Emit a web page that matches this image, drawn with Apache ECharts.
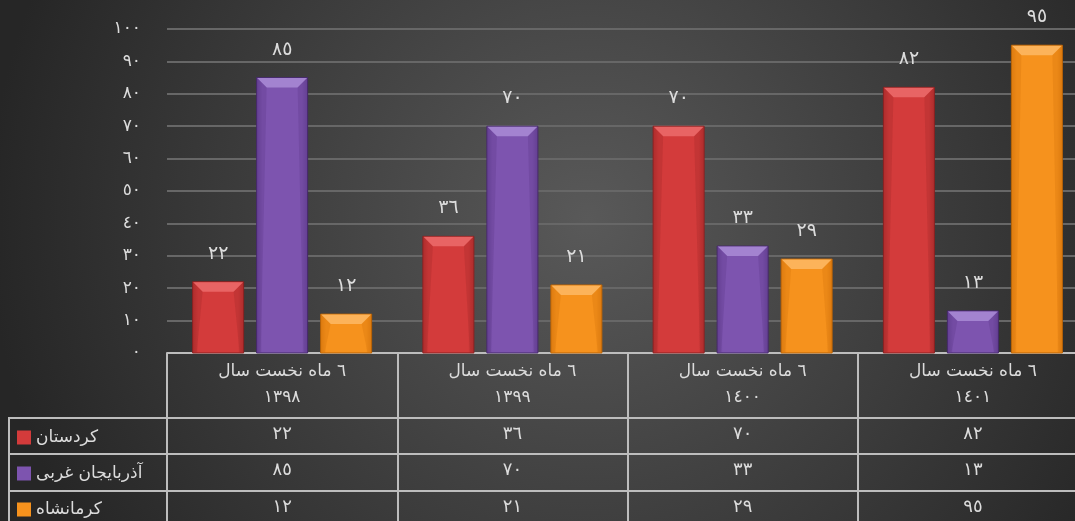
<!DOCTYPE html>
<html>
<head>
<meta charset="utf-8">
<script src="https://cdn.jsdelivr.net/npm/echarts@6/dist/echarts.min.js"></script>
<style>html,body{margin:0;padding:0;background:#333;overflow:hidden;width:1075px;height:521px;}#c{width:1088px;height:521px;}</style>
</head>
<body>
<div id="c"></div>
<script>
// ---- data ----
const periodTitle = '٦ ماه نخست سال';
const periods = ['١٣٩٨', '١٣٩٩', '١٤٠٠', '١٤٠١'];
const seriesNames = ['کردستان', 'آذربایجان غربی', 'کرمانشاه'];
const kurdistan = [22, 36, 70, 82];
const azarbaijan = [85, 70, 33, 13];
const kermanshah = [12, 21, 29, 95];
const yTicks = [0, 10, 20, 30, 40, 50, 60, 70, 80, 90, 100];

const FONT = '"DejaVu Sans", sans-serif';
const TXT = '#dcdcdc';
const fa = n => String(n).replace(/\d/g, d => '٠١٢٣٤٥٦٧٨٩'[d]);

const categories = periods.map(p => periodTitle + '\n' + p);
const allValues = [kurdistan, azarbaijan, kermanshah];

const palettes = [
  {body: '#d33b3b', light: '#e86464', dark: '#ad2c2c', edge: '#8a2020'},
  {body: '#7d54af', light: '#a383d0', dark: '#633f92', edge: '#45296a'},
  {body: '#f6921d', light: '#fcb35a', dark: '#dc7a10', edge: '#b86206'}
];
const offsets = [-64, 0, 64];

function makeRender(si) {
  const pal = palettes[si];
  return function (params, api) {
    const idx = api.value(0), val = api.value(1);
    const top = api.coord([idx, val]);
    const base = api.coord([idx, 0]);
    const w = 51;
    const cx = top[0] + offsets[si];
    const x0 = cx - w / 2, x1 = cx + w / 2, y0 = top[1], y1 = base[1];
    const b = Math.min(10, (y1 - y0) / 2);
    const s = 4;
    return {
      type: 'group',
      children: [
        {type: 'rect', shape: {x: x0, y: y0, width: w, height: y1 - y0},
          style: {fill: new echarts.graphic.LinearGradient(0, 0, 1, 0, [
            {offset: 0, color: pal.dark}, {offset: 0.12, color: pal.body},
            {offset: 0.88, color: pal.body}, {offset: 1, color: pal.dark}]),
            stroke: pal.edge, lineWidth: 1}},
        {type: 'polygon', shape: {points: [[x0 + 0.5, y0 + 0.5], [x1 - 0.5, y0 + 0.5], [x1 - b, y0 + b], [x0 + b, y0 + b]]},
          style: {fill: pal.light}},
        {type: 'polygon', shape: {points: [[x0 + 0.5, y0 + 0.5], [x0 + b, y0 + b], [x0 + s, y1], [x0 + 0.5, y1]]},
          style: {fill: pal.dark, opacity: 0.4}},
        {type: 'polygon', shape: {points: [[x1 - 0.5, y0 + 0.5], [x1 - b, y0 + b], [x1 - s, y1], [x1 - 0.5, y1]]},
          style: {fill: pal.dark, opacity: 0.4}},
        {type: 'text', style: {text: fa(val), x: cx, y: y0 - 28, align: 'center', verticalAlign: 'middle',
          fill: TXT, font: '19px ' + FONT}}
      ]
    };
  };
}

const rowTops = [418, 454, 491];
const legendCenters = [436, 472, 508];
const lineColor = '#bdbdbd';

function tableAxis(si) {
  return {
    type: 'category', data: categories, position: 'bottom', offset: rowTops[si] - 353,
    axisLine: {show: false}, axisTick: {show: false}, splitLine: {show: false},
    axisLabel: {interval: 0, margin: 16, verticalAlign: 'middle', color: TXT, fontSize: 18, fontFamily: FONT,
      formatter: (v, i) => fa(allValues[si][i])}
  };
}

const chart = echarts.init(document.getElementById('c'));
chart.setOption({
  backgroundColor: {type: 'radial', x: 0.54, y: 0.42, r: 1.15,
    colorStops: [{offset: 0, color: '#595959'}, {offset: 1, color: '#262626'}]},
  animation: false,
  grid: {left: 167, right: 0, top: 29, bottom: 168},
  legend: seriesNames.map((name, i) => ({
    orient: 'vertical', left: 17, top: legendCenters[i] - 7, padding: 0, itemWidth: 14, itemHeight: 14,
    icon: 'rect', data: [name], selectedMode: false,
    textStyle: {color: TXT, fontSize: 17, fontFamily: FONT, lineHeight: 14}
  })),
  xAxis: [
    {type: 'category', data: categories, position: 'bottom',
      axisLine: {lineStyle: {color: lineColor, width: 2}},
      axisTick: {show: true, interval: 0, alignWithLabel: false, length: 168, lineStyle: {color: lineColor, width: 2}},
      axisLabel: {interval: 0, margin: 32, verticalAlign: 'middle', lineHeight: 26, color: TXT, fontSize: 17, fontFamily: FONT}},
    tableAxis(0), tableAxis(1), tableAxis(2)
  ],
  yAxis: {
    type: 'value', min: yTicks[0], max: yTicks[yTicks.length - 1], interval: 10,
    axisLine: {show: false}, axisTick: {show: false},
    splitLine: {lineStyle: {color: '#676767', width: 2}},
    axisLabel: {margin: 26, color: TXT, fontSize: 17, fontFamily: FONT, formatter: v => fa(v)}
  },
  series: allValues.map((vals, si) => ({
    type: 'custom', name: seriesNames[si], xAxisIndex: 0,
    itemStyle: {color: palettes[si].body},
    renderItem: makeRender(si),
    encode: {x: 0, y: 1},
    data: vals.map((v, i) => [i, v])
  })),
  graphic: [
    ...rowTops.map(y => ({type: 'line', silent: true, shape: {x1: 9, y1: y, x2: 1088, y2: y},
      style: {stroke: lineColor, lineWidth: 2}})),
    {type: 'line', silent: true, shape: {x1: 9, y1: 417, x2: 9, y2: 521}, style: {stroke: lineColor, lineWidth: 2}}
  ]
});
</script>
</body>
</html>
